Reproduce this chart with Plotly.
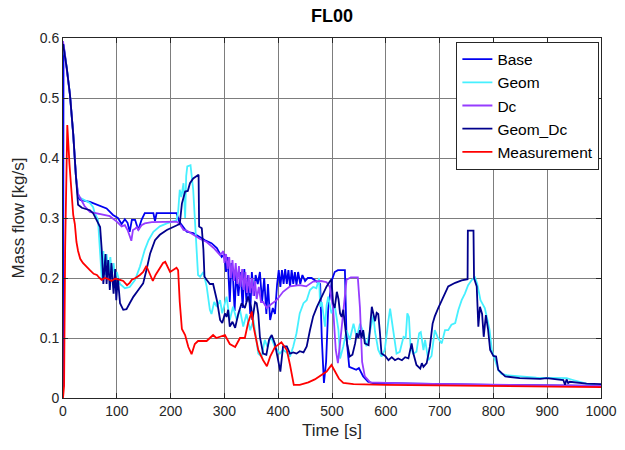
import plotly.graph_objects as go

# ---------------- data ----------------
t_base = [0, 1, 7, 13, 19, 24, 28, 32, 50, 65, 81, 93, 102, 109, 115, 120, 124, 128, 134, 140, 146, 152, 168, 171, 174,
          211, 216, 230, 242, 255, 264, 276, 286, 295, 300, 303, 306, 310, 313, 316, 319, 322, 326, 330, 334, 337, 341,
          344, 348, 351, 355, 358, 362, 366, 370, 374, 378, 381, 385, 390, 394, 398, 401, 404, 407, 410, 413, 416, 419,
          422, 425, 428, 431, 434, 437, 441, 445, 450, 455, 462, 470, 478, 481, 485, 489, 493, 500, 505, 511, 524, 527,
          532, 545, 550, 558, 567, 576, 700, 800, 1000]
y_base = [0.0, 0.59, 0.55, 0.505, 0.44, 0.37, 0.335, 0.33, 0.327, 0.322, 0.316, 0.305, 0.30, 0.29, 0.298, 0.292, 0.277,
          0.297, 0.297, 0.28, 0.297, 0.308, 0.308, 0.295, 0.308, 0.308, 0.294, 0.277, 0.275, 0.268, 0.263, 0.258, 0.25,
          0.235, 0.24, 0.21, 0.235, 0.16, 0.225, 0.2, 0.145, 0.21, 0.17, 0.21, 0.15, 0.215, 0.16, 0.205, 0.14, 0.21,
          0.17, 0.205, 0.19, 0.21, 0.16, 0.2, 0.14, 0.19, 0.13, 0.15, 0.14, 0.19, 0.213, 0.185, 0.213, 0.19, 0.215,
          0.19, 0.213, 0.185, 0.213, 0.19, 0.21, 0.188, 0.21, 0.19, 0.205, 0.195, 0.2, 0.2, 0.195, 0.19, 0.1, 0.025,
          0.06, 0.15, 0.197, 0.21, 0.213, 0.213, 0.1, 0.052, 0.047, 0.05, 0.036, 0.027, 0.025, 0.023, 0.022, 0.02]

t_geom = [0, 7, 13, 19, 24, 28, 31, 50, 56, 59, 65, 68, 70, 72, 75, 78, 81, 85, 88, 91, 94, 97, 100, 106, 115, 124, 134,
          143, 152, 159, 168, 180, 193, 211, 214, 217, 220, 224, 227, 229, 231, 237, 242, 245, 248, 251, 255, 261, 267,
          273, 276, 281, 286, 292, 296, 304, 310, 316, 323, 329, 335, 341, 348, 354, 363, 369, 375, 380, 386, 394, 403,
          409, 416, 422, 428, 434, 440, 447, 453, 459, 465, 471, 476, 478, 481, 487, 490, 493, 499, 505, 512, 515, 521,
          527, 533, 540, 546, 552, 558, 564, 571, 577, 580, 586, 592, 598, 605, 608, 611, 614, 620, 626, 633, 637, 640,
          643, 646, 651, 657, 662, 665, 670, 673, 679, 685, 691, 697, 704, 710, 716, 722, 729, 735, 741, 747, 753, 760,
          766, 770, 776, 780, 784, 789, 793, 797, 803, 809, 815, 825, 880, 911, 936, 948, 973, 1000]
y_geom = [0.59, 0.55, 0.505, 0.44, 0.37, 0.34, 0.334, 0.325, 0.318, 0.308, 0.297, 0.25, 0.21, 0.2, 0.245, 0.205, 0.24,
          0.205, 0.235, 0.205, 0.225, 0.2, 0.21, 0.19, 0.183, 0.185, 0.197, 0.219, 0.247, 0.263, 0.277, 0.286, 0.291,
          0.296, 0.31, 0.347, 0.335, 0.358, 0.3, 0.37, 0.386, 0.388, 0.347, 0.3, 0.26, 0.205, 0.202, 0.21, 0.186, 0.147,
          0.14, 0.16, 0.152, 0.163, 0.141, 0.169, 0.13, 0.152, 0.13, 0.147, 0.119, 0.14, 0.113, 0.13, 0.074, 0.069,
          0.097, 0.085, 0.103, 0.085, 0.074, 0.08, 0.076, 0.069, 0.086, 0.108, 0.141, 0.158, 0.163, 0.18, 0.185, 0.183,
          0.2, 0.152, 0.16, 0.119, 0.155, 0.169, 0.141, 0.155, 0.113, 0.066, 0.086, 0.113, 0.097, 0.124, 0.1, 0.124,
          0.11, 0.086, 0.113, 0.138, 0.11, 0.08, 0.069, 0.08, 0.13, 0.149, 0.13, 0.108, 0.074, 0.077, 0.102, 0.1, 0.141,
          0.135, 0.086, 0.074, 0.077, 0.108, 0.11, 0.08, 0.097, 0.063, 0.07, 0.113, 0.1, 0.091, 0.113, 0.113, 0.122,
          0.125, 0.147, 0.163, 0.174, 0.188, 0.197, 0.201, 0.19, 0.163, 0.155, 0.15, 0.13, 0.113, 0.08, 0.063, 0.047,
          0.04, 0.038, 0.034, 0.033, 0.033, 0.03, 0.024, 0.019]

t_dc = [0, 3, 7, 13, 19, 24, 28, 31, 40, 50, 59, 75, 87, 100, 109, 115, 120, 124, 127, 130, 134, 137, 140, 146, 152, 165,
        190, 211, 217, 224, 230, 242, 255, 267, 280, 292, 298, 300, 303, 306, 309, 312, 315, 318, 321, 324, 327, 330,
        333, 336, 339, 342, 345, 348, 351, 354, 357, 360, 364, 368, 372, 379, 385, 397, 409, 422, 440, 452, 465, 480,
        490, 496, 502, 507, 511, 516, 521, 527, 535, 548, 552, 556, 561, 571, 650, 800, 1000]
y_dc = [0.595, 0.575, 0.55, 0.505, 0.44, 0.37, 0.34, 0.335, 0.32, 0.31, 0.308, 0.305, 0.303, 0.294, 0.286, 0.288, 0.28,
        0.27, 0.262, 0.28, 0.282, 0.285, 0.28, 0.288, 0.291, 0.293, 0.294, 0.294, 0.29, 0.28, 0.279, 0.272, 0.265,
        0.26, 0.25, 0.238, 0.245, 0.225, 0.24, 0.215, 0.235, 0.2, 0.23, 0.195, 0.225, 0.19, 0.22, 0.185, 0.215, 0.18,
        0.21, 0.175, 0.205, 0.175, 0.2, 0.17, 0.195, 0.165, 0.185, 0.16, 0.16, 0.15, 0.155, 0.163, 0.177, 0.186,
        0.188, 0.186, 0.194, 0.195, 0.193, 0.185, 0.15, 0.08, 0.058, 0.1, 0.15, 0.197, 0.201, 0.201, 0.15, 0.06,
        0.036, 0.026, 0.024, 0.022, 0.02]

t_geomdc = [0, 7, 13, 19, 24, 28, 35, 50, 56, 66, 69, 72, 75, 79, 81, 84, 87, 90, 94, 97, 99, 102, 106, 112, 118, 124,
            131, 140, 149, 155, 162, 171, 180, 193, 211, 217, 221, 227, 232, 236, 242, 248, 252, 253, 258, 261, 263,
            267, 273, 279, 286, 292, 296, 301, 304, 307, 310, 315, 320, 326, 332, 338, 344, 350, 352, 357, 360, 363,
            366, 372, 378, 383, 388, 394, 400, 404, 409, 416, 422, 428, 434, 440, 447, 453, 459, 465, 472, 478, 484,
            490, 496, 499, 502, 505, 509, 512, 515, 518, 521, 524, 528, 533, 538, 543, 546, 549, 552, 555, 558, 561,
            568, 574, 577, 580, 583, 586, 589, 592, 599, 605, 611, 617, 623, 630, 636, 642, 648, 651, 657, 664, 667,
            670, 676, 682, 687, 691, 697, 707, 716, 729, 741, 752, 752.5, 763, 764, 769, 772, 775, 779, 782, 786, 790,
            794, 800, 805, 809, 815, 822, 849, 887, 899, 930, 933, 936, 939, 942, 973, 1000]
y_geomdc = [0.59, 0.55, 0.505, 0.44, 0.37, 0.322, 0.317, 0.313, 0.308, 0.29, 0.285, 0.247, 0.19, 0.24, 0.19, 0.23, 0.18,
            0.225, 0.174, 0.215, 0.163, 0.2, 0.158, 0.147, 0.148, 0.158, 0.169, 0.18, 0.191, 0.213, 0.241, 0.263,
            0.272, 0.28, 0.288, 0.29, 0.324, 0.344, 0.345, 0.358, 0.366, 0.37, 0.372, 0.286, 0.283, 0.247, 0.202,
            0.197, 0.19, 0.19, 0.163, 0.13, 0.125, 0.141, 0.135, 0.147, 0.119, 0.127, 0.117, 0.141, 0.158, 0.15,
            0.169, 0.15, 0.13, 0.16, 0.158, 0.14, 0.102, 0.074, 0.072, 0.097, 0.105, 0.09, 0.063, 0.044, 0.086, 0.086,
            0.074, 0.076, 0.074, 0.078, 0.076, 0.086, 0.113, 0.136, 0.152, 0.163, 0.174, 0.186, 0.194, 0.198, 0.158,
            0.15, 0.177, 0.165, 0.141, 0.135, 0.147, 0.119, 0.091, 0.069, 0.072, 0.091, 0.108, 0.1, 0.113, 0.1, 0.113,
            0.091, 0.088, 0.152, 0.142, 0.128, 0.142, 0.14, 0.11, 0.074, 0.07, 0.063, 0.068, 0.063, 0.066, 0.063,
            0.068, 0.066, 0.091, 0.075, 0.055, 0.049, 0.058, 0.052, 0.058, 0.086, 0.124, 0.136, 0.149, 0.169, 0.186,
            0.192, 0.196, 0.198, 0.279, 0.279, 0.2, 0.186, 0.119, 0.152, 0.14, 0.102, 0.138, 0.115, 0.08, 0.07,
            0.069, 0.047, 0.042, 0.036, 0.033, 0.032, 0.033, 0.03, 0.022, 0.031, 0.025, 0.027, 0.024, 0.023]

t_meas = [0, 2, 4, 8, 12, 16, 19, 22, 25, 28, 32, 37, 44, 50, 57, 63, 68, 72, 78, 85, 90, 97, 106, 112, 119, 124, 128,
          135, 143, 149, 155, 160, 167, 172, 177, 186, 190, 194, 199, 204, 211, 214, 217, 221, 227, 233, 239, 245, 251,
          258, 267, 273, 279, 285, 292, 301, 310, 320, 329, 338, 344, 349, 351, 354, 363, 372, 379, 385, 394, 406, 416,
          422, 429, 440, 456, 468, 478, 490, 499, 505, 513, 521, 540, 600, 800, 1000]
y_meas = [0.0, 0.02, 0.25, 0.455, 0.39, 0.33, 0.305, 0.29, 0.26, 0.245, 0.232, 0.225, 0.218, 0.213, 0.207, 0.205, 0.2,
          0.197, 0.2, 0.198, 0.195, 0.199, 0.197, 0.195, 0.188, 0.192, 0.197, 0.2, 0.205, 0.21, 0.22, 0.21, 0.195,
          0.205, 0.213, 0.225, 0.227, 0.22, 0.21, 0.213, 0.217, 0.213, 0.16, 0.115, 0.105, 0.085, 0.073, 0.09, 0.095,
          0.095, 0.095, 0.1, 0.105, 0.1, 0.102, 0.105, 0.09, 0.085, 0.1, 0.1, 0.125, 0.142, 0.144, 0.12, 0.08, 0.063,
          0.053, 0.069, 0.085, 0.093, 0.08, 0.055, 0.022, 0.022, 0.026, 0.031, 0.037, 0.044, 0.055, 0.045, 0.032,
          0.025, 0.023, 0.022, 0.02, 0.018]

x_ticks = [0, 100, 200, 300, 400, 500, 600, 700, 800, 900, 1000]
y_ticks = [0, 0.1, 0.2, 0.3, 0.4, 0.5, 0.6]
y_tick_text = ["0", "0.1", "0.2", "0.3", "0.4", "0.5", "0.6"]

series = [
    ("Base", t_base, y_base, "rgb(0,0,240)"),
    ("Geom", t_geom, y_geom, "rgb(70,240,255)"),
    ("Dc", t_dc, y_dc, "rgb(150,60,255)"),
    ("Geom_Dc", t_geomdc, y_geomdc, "rgb(0,0,140)"),
    ("Measurement", t_meas, y_meas, "rgb(255,0,0)"),
]

fig = go.Figure()
for name, tx, vy, col in series:
    fig.add_trace(go.Scatter(x=tx, y=vy, mode="lines", name=name,
                             line=dict(color=col, width=1.8)))

font_family = "Liberation Sans, Arial, sans-serif"
axis_common = dict(showline=True, linecolor="rgb(38,38,38)", linewidth=1, mirror="ticks",
                   ticks="inside", ticklen=5, tickcolor="rgb(38,38,38)", automargin=False,
                   showgrid=True, gridcolor="rgb(125,125,125)", gridwidth=1, zeroline=False,
                   tickfont=dict(size=14, color="rgb(38,38,38)", family=font_family))

fig.update_xaxes(range=[0, 1000], tickvals=x_ticks, title=dict(text="Time [s]", standoff=6,
                 font=dict(size=17, color="rgb(38,38,38)", family=font_family)), **axis_common)
fig.update_yaxes(range=[0, 0.6], tickvals=y_ticks, ticktext=y_tick_text,
                 title=dict(text="Mass flow [kg/s]", standoff=10,
                            font=dict(size=17, color="rgb(38,38,38)", family=font_family)), **axis_common)

fig.update_layout(
    width=625, height=450,
    margin=dict(l=63, r=24, t=38, b=52, autoexpand=False),
    paper_bgcolor="white", plot_bgcolor="white",
    title=dict(text="<b>FL00</b>", x=0.5, xref="paper", y=1 - 16 / 450, yref="container",
               yanchor="middle", font=dict(size=18, color="black", family=font_family)),
    legend=dict(x=0.997, y=0.99, xanchor="right", yanchor="top", bgcolor="white",
                bordercolor="rgb(38,38,38)", borderwidth=1,
                font=dict(size=15.5, color="black", family=font_family),
                itemwidth=30, tracegroupgap=0),
    showlegend=True,
)

fig.write_html("out.html", config={"displayModeBar": False},
               post_script="document.body.style.margin='0px';")
